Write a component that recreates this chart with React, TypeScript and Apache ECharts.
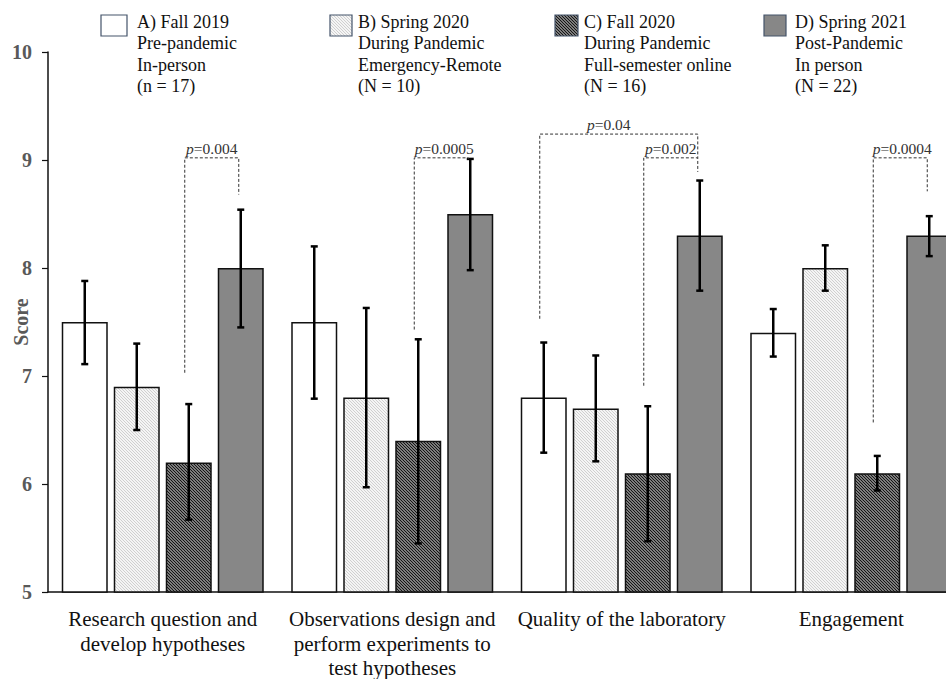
import React, { useEffect, useRef } from 'react';
import * as echarts from 'echarts';

// ---------- data ----------
const CATEGORIES = [
  'Research question and\ndevelop hypotheses',
  'Observations design and\nperform experiments to\ntest hypotheses',
  'Quality of the laboratory',
  'Engagement',
];
const SERIES_NAMES = ['A) Fall 2019', 'B) Spring 2020', 'C) Fall 2020', 'D) Spring 2021'];
const LEGEND_LINES = [
  ['A) Fall 2019', 'Pre-pandemic', 'In-person', '(n = 17)'],
  ['B) Spring 2020', 'During Pandemic', 'Emergency-Remote', '(N = 10)'],
  ['C) Fall 2020', 'During Pandemic', 'Full-semester online', '(N = 16)'],
  ['D) Spring 2021', 'Post-Pandemic', 'In person', '(N = 22)'],
];
const MEAN_A = [7.5, 7.5, 6.8, 7.4];
const MEAN_B = [6.9, 6.8, 6.7, 8.0];
const MEAN_C = [6.2, 6.4, 6.1, 6.1];
const MEAN_D = [8.0, 8.5, 8.3, 8.3];
const ERR_A = [[7.11, 7.88], [6.79, 8.2], [6.29, 7.31], [7.18, 7.62]];
const ERR_B = [[6.5, 7.3], [5.97, 7.63], [6.21, 7.19], [7.79, 8.21]];
const ERR_C = [[5.67, 6.74], [5.45, 7.34], [5.47, 6.72], [5.94, 6.26]];
const ERR_D = [[7.45, 8.54], [7.98, 9.01], [7.79, 8.81], [8.11, 8.48]];
// [category, left bar, right bar, top, left end, right end]
const BRACKETS = [
  [0, 2, 3, 9.02, 7.03, 8.68],
  [1, 2, 3, 9.02, 7.43, 9.01],
  [2, 0, 3, 9.24, 7.53, 9.02],
  [2, 2, 3, 9.02, 6.91, 8.89],
  [3, 2, 3, 9.02, 6.57, 8.71],
];
const P_VALUES = ['0.004', '0.0005', '0.04', '0.002', '0.0004'];
const Y_MIN = 5;
const Y_MAX = 10;
const Y_INTERVAL = 1;

// ---------- layout / style ----------
const FONT = "'Liberation Serif', 'Times New Roman', serif";
const BAR_W = 46;
const BAR_GAP = 6;
const BRACKET_LABEL_DX = [0, 3, -10, 0, 2];
const LEGEND_ICON_X = [101, 330, 555, 764];
const LEGEND_ICON_W = [26, 22, 23, 22];
const LEGEND_TEXT_X = [137, 358, 584, 795];

function makeHatch(bg: string, fg: string, lw: number) {
  const s = 3;
  const c = document.createElement('canvas');
  c.width = s;
  c.height = s;
  const ctx = c.getContext('2d')!;
  ctx.fillStyle = bg;
  ctx.fillRect(0, 0, s, s);
  ctx.strokeStyle = fg;
  ctx.lineWidth = lw;
  ctx.beginPath();
  ctx.moveTo(-1, -1);
  ctx.lineTo(s + 1, s + 1);
  ctx.moveTo(-1, s - 1);
  ctx.lineTo(1, s + 1);
  ctx.moveTo(s - 1, -1);
  ctx.lineTo(s + 1, 1);
  ctx.stroke();
  return { image: c, repeat: 'repeat', imageWidth: s, imageHeight: s } as any;
}

export default function App() {
  const ref = useRef<HTMLDivElement>(null);

  useEffect(() => {
    if (!ref.current) return;
    const chart = echarts.init(ref.current, undefined, { renderer: 'svg' });

    const fills: any[] = [
      '#ffffff',
      makeHatch('#f5f5f5', '#cccccc', 0.9),
      makeHatch('#f0f0f0', '#151515', 1.5),
      '#878787',
    ];
    const means = [MEAN_A, MEAN_B, MEAN_C, MEAN_D];
    const errs = [ERR_A, ERR_B, ERR_C, ERR_D];
    const offset = (i: number) => (i - 1.5) * (BAR_W + BAR_GAP);

    const barSeries = means.map((m, i) => ({
      type: 'bar',
      name: SERIES_NAMES[i],
      data: m,
      barWidth: BAR_W,
      barGap: `${(BAR_GAP / BAR_W) * 100}%`,
      itemStyle: { color: fills[i], borderColor: '#111', borderWidth: 1.5 },
      z: 2,
    }));

    const errSeries = errs.map((e, i) => ({
      type: 'custom',
      name: SERIES_NAMES[i] + ' error',
      data: e.map((v, k) => [k, v[0], v[1]]),
      encode: { x: 0, y: [1, 2] },
      z: 5,
      renderItem: (params: any, api: any) => {
        const cat = api.value(0);
        const lo = api.coord([cat, api.value(1)]);
        const hi = api.coord([cat, api.value(2)]);
        const x = lo[0] + offset(i);
        const st = { stroke: '#000', lineWidth: 2.5 };
        return {
          type: 'group',
          children: [
            { type: 'line', shape: { x1: x, y1: lo[1], x2: x, y2: hi[1] }, style: st },
            { type: 'line', shape: { x1: x - 3.5, y1: lo[1], x2: x + 3.5, y2: lo[1] }, style: st },
            { type: 'line', shape: { x1: x - 3.5, y1: hi[1], x2: x + 3.5, y2: hi[1] }, style: st },
          ],
        };
      },
    }));

    const bracketSeries = {
      type: 'custom',
      name: 'brackets',
      data: BRACKETS,
      encode: { x: 0, y: [3, 4, 5] },
      z: 6,
      renderItem: (params: any, api: any) => {
        const idx = params.dataIndex;
        const cat = api.value(0);
        const lb = api.value(1);
        const rb = api.value(2);
        const top = api.coord([cat, api.value(3)]);
        const le = api.coord([cat, api.value(4)]);
        const re = api.coord([cat, api.value(5)]);
        const xl = top[0] + offset(lb) - 4;
        const xr = top[0] + offset(rb) - 2;
        return {
          type: 'group',
          children: [
            {
              type: 'polyline',
              shape: { points: [[xl, le[1]], [xl, top[1]], [xr, top[1]], [xr, re[1]]] },
              style: { stroke: '#333', lineWidth: 1, lineDash: [3, 2], fill: null },
            },
            {
              type: 'text',
              x: (xl + xr) / 2 + BRACKET_LABEL_DX[idx],
              y: top[1] - 9.5,
              style: {
                text: `{i|p}=${P_VALUES[idx]}`,
                align: 'center',
                verticalAlign: 'middle',
                fontFamily: FONT,
                fontSize: 15.5,
                fill: '#333',
                rich: { i: { fontStyle: 'italic', fontFamily: FONT, fontSize: 15.5, fill: '#333' } },
              },
            },
          ],
        };
      },
    };

    const legendGraphics: any[] = [];
    LEGEND_LINES.forEach((lines, i) => {
      legendGraphics.push({
        type: 'rect',
        shape: { x: LEGEND_ICON_X[i], y: 15, width: LEGEND_ICON_W[i], height: 21 },
        style: { fill: fills[i], stroke: '#44546a', lineWidth: 1.2 },
      });
      legendGraphics.push({
        type: 'text',
        x: LEGEND_TEXT_X[i],
        y: 11,
        style: {
          text: lines.join('\n'),
          fontFamily: FONT,
          fontSize: 18,
          lineHeight: 21.5,
          fill: '#111',
          verticalAlign: 'top',
          align: 'left',
        },
      });
    });

    chart.setOption({
      animation: false,
      backgroundColor: '#ffffff',
      grid: { left: 48, right: -20, top: 52, bottom: 87, containLabel: false, outerBoundsMode: 'none' },
      xAxis: {
        type: 'category',
        data: CATEGORIES,
        axisLine: { show: true, lineStyle: { color: '#111', width: 1.5 } },
        axisTick: { show: false },
        axisLabel: {
          interval: 0,
          margin: 15,
          fontFamily: FONT,
          fontSize: 21,
          lineHeight: 24.5,
          color: '#111',
        },
      },
      yAxis: {
        type: 'value',
        min: Y_MIN,
        max: Y_MAX,
        interval: Y_INTERVAL,
        name: 'Score',
        nameLocation: 'middle',
        nameGap: 17,
        nameMoveOverlap: false,
        nameTextStyle: { fontFamily: FONT, fontSize: 20, fontWeight: 'bold', color: '#595959' },
        axisLine: { show: true, lineStyle: { color: '#111', width: 1.5 } },
        axisTick: { show: true, length: 6, lineStyle: { color: '#111', width: 1.2 } },
        axisLabel: { margin: 16, fontFamily: FONT, fontSize: 20, fontWeight: 'bold', color: '#595959' },
        splitLine: { show: false },
      },
      series: [...barSeries, ...errSeries, bracketSeries],
      graphic: legendGraphics,
    } as any);

    return () => chart.dispose();
  }, []);

  return (
    <div
      ref={ref}
      style={{ position: 'fixed', left: 0, top: 0, width: '946px', height: '679px', background: '#fff' }}
    />
  );
}
